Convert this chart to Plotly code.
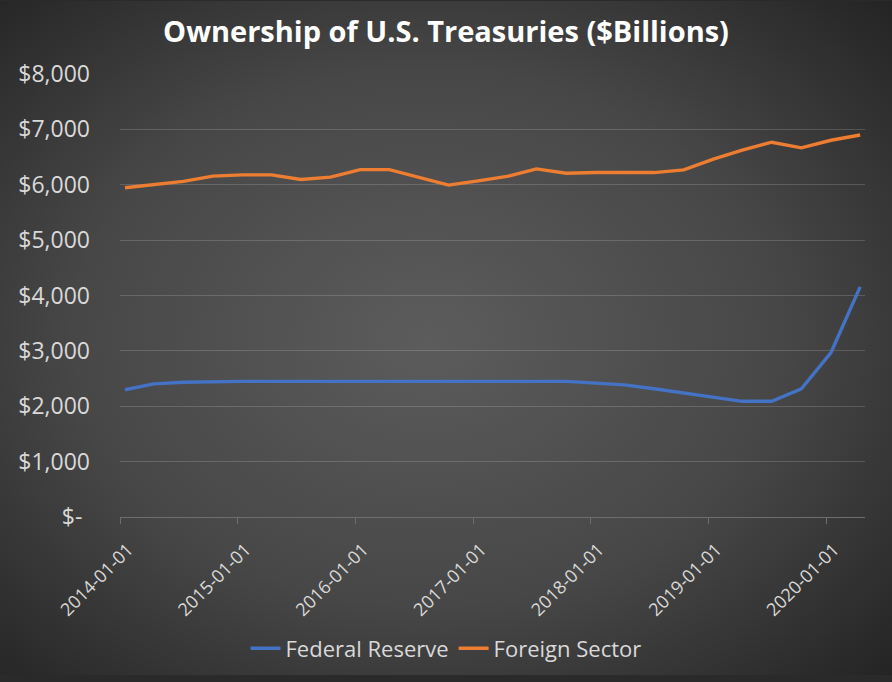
import base64
import plotly.graph_objects as go

dates = [
    "2014-01-01", "2014-04-01", "2014-07-01", "2014-10-01",
    "2015-01-01", "2015-04-01", "2015-07-01", "2015-10-01",
    "2016-01-01", "2016-04-01", "2016-07-01", "2016-10-01",
    "2017-01-01", "2017-04-01", "2017-07-01", "2017-10-01",
    "2018-01-01", "2018-04-01", "2018-07-01", "2018-10-01",
    "2019-01-01", "2019-04-01", "2019-07-01", "2019-10-01",
    "2020-01-01", "2020-04-01",
]
federal_reserve = [
    2298, 2405, 2434, 2446, 2450, 2450, 2450, 2450,
    2450, 2450, 2450, 2450, 2450, 2450, 2450, 2450,
    2417, 2387, 2316, 2238, 2161, 2089, 2089, 2316,
    2970, 4155,
]
foreign_sector = [
    5946, 5995, 6060, 6155, 6178, 6178, 6095, 6137,
    6274, 6274, 6131, 5994, 6071, 6150, 6286, 6208,
    6220, 6220, 6220, 6268, 6464, 6625, 6768, 6667,
    6804, 6898,
]
y_tickvals = [0, 1000, 2000, 3000, 4000, 5000, 6000, 7000, 8000]
y_ticktext = ["$-\u2009\u2009", "$1,000", "$2,000", "$3,000", "$4,000",
              "$5,000", "$6,000", "$7,000", "$8,000"]

W, H = 892, 682
ML, MR, MT, MB = 120, 27, 74, 160
PW, PH = W - ML - MR, H - MT - MB

svg = f"""<svg xmlns='http://www.w3.org/2000/svg' width='{W}' height='{H}' viewBox='0 0 {W} {H}' preserveAspectRatio='none'>
<defs><radialGradient id='g' cx='0.48' cy='0.5' r='0.72' gradientUnits='objectBoundingBox'>
<stop offset='0' stop-color='#5c5c5c'/><stop offset='0.55' stop-color='#474747'/><stop offset='1' stop-color='#242424'/>
</radialGradient></defs><rect width='{W}' height='{H}' fill='url(#g)'/></svg>"""
bg_src = "data:image/svg+xml;base64," + base64.b64encode(svg.encode()).decode()

fig = go.Figure()
fig.add_trace(go.Scatter(
    x=dates, y=federal_reserve, name="Federal Reserve", mode="lines",
    line=dict(color="#4472C4", width=3.4),
    xperiod="M1", xperiodalignment="middle",
))
fig.add_trace(go.Scatter(
    x=dates, y=foreign_sector, name="Foreign Sector", mode="lines",
    line=dict(color="#ED7D31", width=3.4),
    xperiod="M1", xperiodalignment="middle",
))

fig.update_layout(
    width=W, height=H,
    margin=dict(l=ML, r=MR, t=MT, b=MB),
    paper_bgcolor="#2a2a2a",
    plot_bgcolor="rgba(0,0,0,0)",
    font=dict(family="Open Sans", color="#d9d9d9"),
    title=dict(
        text="<b>Ownership of U.S. Treasuries ($Billions)</b>",
        x=0.5, xanchor="center", y=1 - 32 / H, yanchor="middle",
        font=dict(family="Open Sans", size=29, color="#ffffff"),
    ),
    images=[dict(
        source=bg_src, xref="paper", yref="paper",
        x=-ML / PW, y=1 + MT / PH, sizex=W / PW, sizey=H / PH,
        xanchor="left", yanchor="top", sizing="stretch", layer="below",
    )],
    showlegend=True,
    legend=dict(
        orientation="h", x=(446 - ML) / PW, xanchor="center",
        y=-(655 - 522) / PH, yanchor="middle",
        font=dict(size=22, color="#d9d9d9"), bgcolor="rgba(0,0,0,0)",
        itemwidth=30, tracegroupgap=0,
    ),
    xaxis=dict(
        type="date",
        range=["2014-01-01", "2020-05-01"],
        tick0="2014-01-01", dtick="M12", tickformat="%Y-%m-%d",
        tickangle=-45, tickfont=dict(size=18, color="#d9d9d9"),
        ticklabelshift=8, ticklabelstandoff=8,
        showgrid=False, zeroline=False,
        showline=True, linecolor="#6e6e6e", linewidth=1,
        ticks="outside", ticklen=6, tickcolor="#6e6e6e",
    ),
    yaxis=dict(
        range=[0, 8000],
        tickvals=y_tickvals, ticktext=y_ticktext,
        tickfont=dict(size=23, color="#d9d9d9"),
        showgrid=True, gridcolor="rgba(255,255,255,0.16)", gridwidth=1,
        zeroline=False, showline=False, ticks="",
        ticklabelstandoff=29,
    ),
)

fig.write_html("out.html", config={"displayModeBar": False},
               post_script="document.body.style.margin='0';")
